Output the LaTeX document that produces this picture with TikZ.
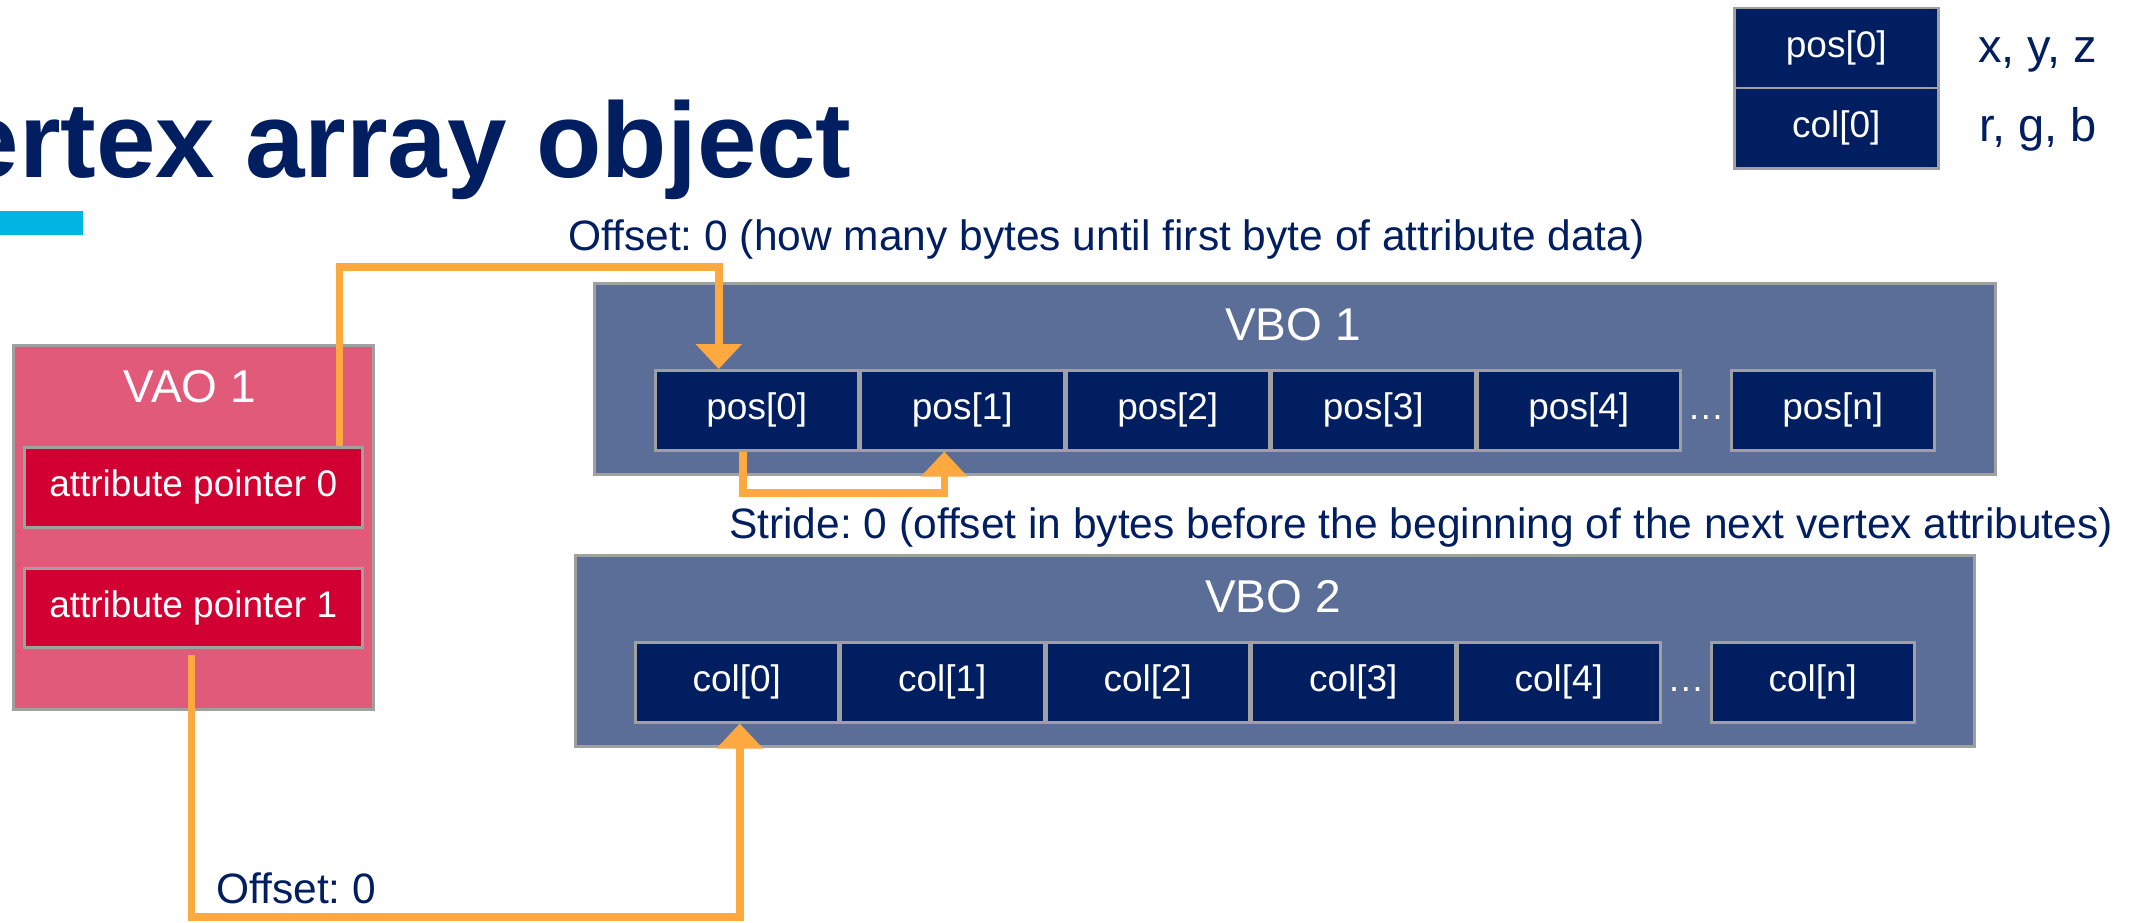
\documentclass[tikz,border=0pt]{standalone}
\usepackage{fontspec}
\setmainfont{Liberation Sans}
\usetikzlibrary{arrows.meta,calc}
\definecolor{navy}{RGB}{0,30,96}
\definecolor{slate}{RGB}{91,110,151}
\definecolor{vaofill}{RGB}{225,90,122}
\definecolor{apfill}{RGB}{210,0,50}
\definecolor{orng}{RGB}{253,169,63}
\definecolor{cyanbar}{RGB}{0,181,226}
\definecolor{bordergray}{RGB}{160,160,160}
\frenchspacing
\begin{document}
\begin{tikzpicture}[x=1pt,y=-1pt,
  cell/.style={draw=bordergray, line width=2.5pt, fill=navy, text=white,
    minimum width=203pt, minimum height=80pt, inner sep=0pt,
    font=\fontsize{37}{40}\selectfont, anchor=north west},
  chain/.style={cell, anchor=north west, at={(#1.north east)}},
  ptrbox/.style={draw=bordergray, line width=2.5pt, fill=apfill, text=white,
    minimum width=338pt, minimum height=80pt, inner sep=0pt,
    font=\fontsize{37}{40}\selectfont, anchor=north west},
  buffer/.style={draw=bordergray, line width=3pt, fill=slate, inner sep=0pt,
    anchor=north west, minimum height=191pt},
  heading/.style={text=white, inner sep=0pt, anchor=base, font=\fontsize{46}{50}\selectfont},
  label/.style={text=navy, inner sep=0pt, anchor=base west, font=\fontsize{42.5}{48}\selectfont},
  legendtxt/.style={text=navy, inner sep=0pt, anchor=base west, font=\fontsize{47}{50}\selectfont},
  dotstyle/.style={text=white, inner sep=0pt, anchor=base, font=\fontsize{37}{40}\selectfont},
  conn/.style={draw=orng, line width=7.5pt, -{Triangle[width=45pt,length=25pt]}}
]
\useasboundingbox (0,0) rectangle (2146,923);
\clip (0,0) rectangle (2146,923);
\fill[white] (0,0) rectangle (2146,923);

% title
\node[anchor=base east, inner sep=0pt, text=navy,
  font=\fontsize{107}{120}\selectfont\bfseries] (title) at (852,177) {Vertex array object};
\fill[cyanbar] (0,211) rectangle (83,235);

% legend
\node[cell, minimum width=204pt] (lp) at (1733,7) {pos[0]};
\node[cell, minimum width=204pt] (lc) at (1733,87) {col[0]};
\node[legendtxt] (xyz) at (1978,63) {x, y, z};
\node[legendtxt] (rgb) at (1979,142) {r, g, b};

% VAO
\node[buffer, fill=vaofill, minimum width=360pt, minimum height=364pt] (vao) at (12,344) {};
\node[heading] (vaol) at (190,402) {VAO 1};
\node[ptrbox] (ap0) at (23,446) {attribute pointer 0};
\node[ptrbox, minimum height=79pt] (ap1) at (23,567) {attribute pointer 1};

% VBO 1
\node[buffer, minimum width=1401pt] (vbo1) at (593,282) {};
\node[heading] (vbo1l) at (1293,340) {VBO 1};
\node[cell] (p0) at (654,369) {pos[0]};
\node[chain=p0] (p1) {pos[1]};
\node[chain=p1] (p2) {pos[2]};
\node[chain=p2] (p3) {pos[3]};
\node[chain=p3] (p4) {pos[4]};
\node[cell] (pn) at (1730,369) {pos[n]};
\node[dotstyle] (d1) at ($(p4.base)!0.5!(pn.base)$) {…};

% VBO 2
\node[buffer, minimum width=1399pt] (vbo2) at (574,554) {};
\node[heading] (vbo2l) at (1273,612) {VBO 2};
\node[cell, minimum height=80pt] (c0) at (634,641) {col[0]};
\node[chain=c0] (c1) {col[1]};
\node[chain=c1] (c2) {col[2]};
\node[chain=c2] (c3) {col[3]};
\node[chain=c3] (c4) {col[4]};
\node[cell] (cn) at (1710,641) {col[n]};
\node[dotstyle] (d2) at ($(c4.base)!0.5!(cn.base)$) {…};

% labels
\node[label] (off1) at (568,250) {Offset: 0 (how many bytes until first byte of attribute data)};
\node[label] (stride) at (729,538) {Stride: 0 (offset in bytes before the beginning of the next vertex attributes)};
\node[label] (off2) at (216,903) {Offset: 0};

% connectors
\coordinate (lvl1) at (0,267);
\coordinate (lvl2) at (0,493);
\coordinate (lvl3) at (0,917);
\coordinate (s0) at ([xshift=-24pt]ap0.north east);
\coordinate (t0) at ([xshift=-38pt]p0.north);
\draw[conn] (s0) |- (t0 |- lvl1) -- (t0);
\coordinate (u0) at ([xshift=-14pt]p0.south);
\coordinate (u1) at ([xshift=-18pt]p1.south);
\draw[conn] (u0) |- (u1 |- lvl2) -- (u1);
\coordinate (v0) at ([xshift=-2pt,yshift=-6pt]ap1.south);
\coordinate (w0) at ([xshift=3pt]c0.south);
\draw[conn] (v0) |- (w0 |- lvl3) -- (w0);
\end{tikzpicture}
\end{document}
